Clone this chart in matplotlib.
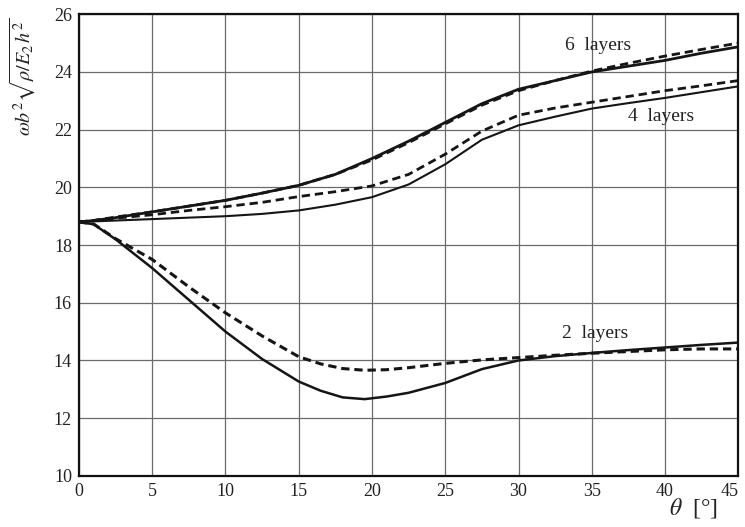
import matplotlib
matplotlib.use("Agg")
import matplotlib.pyplot as plt

# --- values ---
theta = [0, 1, 2.5, 5, 7.5, 10, 12.5, 15, 17.5, 20, 22.5, 25, 27.5, 30,
         32.5, 35, 37.5, 40, 42.5, 45]

six_solid = [18.8, 18.85, 18.95, 19.15, 19.35, 19.55, 19.8, 20.07, 20.45, 21.0,
             21.6, 22.25, 22.9, 23.4, 23.7, 24.0, 24.2, 24.4, 24.65, 24.87]
six_dash = [18.8, 18.85, 18.97, 19.15, 19.35, 19.55, 19.8, 20.07, 20.45, 20.95,
            21.55, 22.2, 22.85, 23.35, 23.7, 24.03, 24.3, 24.55, 24.78, 25.0]
four_solid = [18.8, 18.82, 18.85, 18.9, 18.95, 19.0, 19.08, 19.2, 19.4, 19.66,
              20.1, 20.8, 21.65, 22.15, 22.45, 22.73, 22.92, 23.1, 23.3, 23.5]
four_dash = [18.8, 18.85, 18.93, 19.05, 19.2, 19.33, 19.48, 19.68, 19.85, 20.05,
             20.45, 21.15, 21.95, 22.5, 22.75, 22.95, 23.15, 23.35, 23.52, 23.7]

# 2 layers read on a finer grid around the minimum
theta2 = [0, 1, 2.5, 5, 7.5, 10, 12.5, 15, 16.5, 18, 19.5, 21, 22.5, 25, 27.5,
          30, 32.5, 35, 37.5, 40, 42.5, 45]
two_solid = [18.8, 18.72, 18.2, 17.2, 16.1, 15.0, 14.05, 13.27, 12.95, 12.72,
             12.66, 12.75, 12.88, 13.22, 13.7, 14.0, 14.15, 14.26, 14.36, 14.45,
             14.54, 14.62]
two_dash = [18.8, 18.73, 18.22, 17.5, 16.55, 15.65, 14.85, 14.13, 13.88, 13.72,
            13.66, 13.68, 13.75, 13.9, 14.02, 14.1, 14.18, 14.25, 14.31, 14.37,
            14.4, 14.4]

curve_labels = ["6  layers", "4  layers", "2  layers"]
label_pos = [(35.4, 24.9), (39.7, 22.45), (35.2, 14.95)]

xticks = list(range(0, 46, 5))
yticks = list(range(10, 27, 2))

plt.rcParams["font.family"] = ["Liberation Serif", "DejaVu Serif"]
plt.rcParams["mathtext.fontset"] = "stix"
plt.rcParams["lines.scale_dashes"] = False

fig = plt.figure(figsize=(7.45, 5.27), dpi=100)
ax = fig.add_axes([0.106, 0.097, 0.885, 0.876])

dash = (6, 3.5)
ax.plot(theta, six_solid, color="#151515", lw=2.0)
ax.plot(theta, six_dash, color="#151515", lw=2.0, linestyle="--", dashes=dash)
ax.plot(theta, four_solid, color="#151515", lw=1.5)
ax.plot(theta, four_dash, color="#151515", lw=2.0, linestyle="--", dashes=dash)
ax.plot(theta2, two_solid, color="#151515", lw=1.8)
ax.plot(theta2, two_dash, color="#151515", lw=2.2, linestyle="--", dashes=dash)

for txt, (lx, ly) in zip(curve_labels, label_pos):
    ax.text(lx, ly, txt, fontsize=14, ha="center", va="center", color="#222222")

ax.set_xlim(0, 45)
ax.set_ylim(10, 26)
ax.set_xticks(xticks)
ax.set_yticks(yticks)
ax.tick_params(length=0, labelsize=13, pad=5, colors="#222222")
ax.get_xticklabels()[-1].set_horizontalalignment("right")
ax.grid(True, color="#6a6a6a", lw=0.9)
for s in ax.spines.values():
    s.set_linewidth(1.6)
    s.set_color("#111111")

fig.text(0.03, 0.855, r"$\omega b^2\sqrt{\rho/E_2\,h^2}$", rotation=90,
         fontsize=14.5, ha="center", va="center", color="#222222")
fig.text(0.93, 0.036, r"$\theta$  [°]", fontsize=17, ha="center", va="center",
         color="#222222")

fig.savefig("out.png", dpi=100)
